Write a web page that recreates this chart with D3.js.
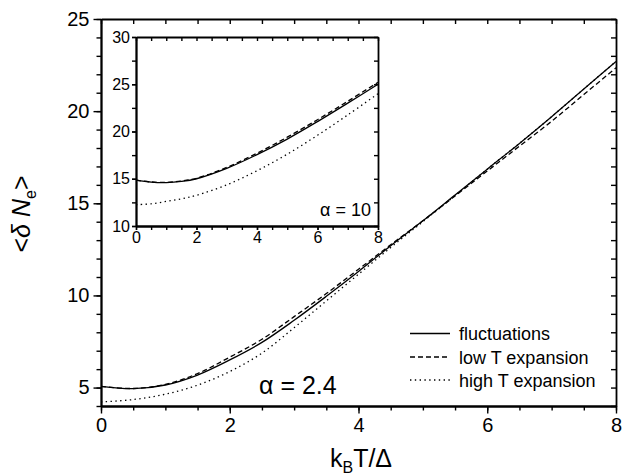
<!DOCTYPE html>
<html lang="en">
<head>
  <meta charset="UTF-8" />
  <title>delta N_e vs kBT/Delta</title>
  <script src="https://d3js.org/d3.v7.min.js"></script>
  <style>
    body { margin: 0; background: white; }
    svg { display: block; font-family: "Liberation Sans", Arial, sans-serif; }
    .axis path, .axis line { stroke: black; }
    .axis path { stroke-width: 1.8px; }
    .axis line { stroke-width: 1.4px; }
    .axis text { fill: black; }
    .curve { fill: none; stroke: black; stroke-width: 1.3px; }
  </style>
</head>
<body>
<svg width="631" height="476"></svg>
<script>
  // main panel (alpha = 2.4)
  const mainX = [0, 0.5, 1, 1.5, 2, 2.5, 3, 3.5, 4, 4.5, 5, 5.5, 6, 6.5, 7, 7.5, 8];
  const mainFluct = [5.07, 4.94, 5.14, 5.68, 6.5, 7.45, 8.65, 9.95, 11.3, 12.7, 14.05, 15.45, 16.85, 18.25, 19.7, 21.2, 22.7];
  const mainLowT = [5.07, 4.95, 5.17, 5.76, 6.65, 7.62, 8.85, 10.1, 11.42, 12.75, 14.05, 15.4, 16.75, 18.1, 19.45, 20.9, 22.35];
  const mainHighT = [4.22, 4.35, 4.64, 5.13, 5.87, 6.87, 8.25, 9.7, 11.15, 12.6, 14.0, 15.42, 16.85, 18.25, 19.7, 21.2, 22.7];

  // inset (alpha = 10)
  const insetX = [0, 0.5, 1, 1.5, 2, 3, 4, 5, 6, 7, 8];
  const insetFluct = [14.85, 14.65, 14.6, 14.72, 15.0, 16.1, 17.55, 19.2, 21.05, 23.0, 25.0];
  const insetLowT = [14.85, 14.66, 14.62, 14.76, 15.05, 16.2, 17.7, 19.4, 21.25, 23.2, 25.2];
  const insetHighT = [12.25, 12.35, 12.6, 12.88, 13.25, 14.35, 15.85, 17.6, 19.6, 21.75, 24.0];

  const mainXTicks = [0, 2, 4, 6, 8];
  const mainYTicks = [5, 10, 15, 20, 25];
  const insetXTicks = [0, 2, 4, 6, 8];
  const insetYTicks = [10, 15, 20, 25, 30];

  const legendLabels = ["fluctuations", "low T expansion", "high T expansion"];
  const dashes = [null, "5,3", "1.4,3.4"];

  const svg = d3.select("svg");

  function drawPanel(g, o) {
    const x = d3.scaleLinear().domain(o.xDomain).range([o.left, o.right]);
    const y = d3.scaleLinear().domain(o.yDomain).range([o.bottom, o.top]);

    if (o.background) {
      g.append("rect")
        .attr("x", o.left).attr("y", o.top)
        .attr("width", o.right - o.left).attr("height", o.bottom - o.top)
        .attr("fill", "white");
    }

    const xMinor = d3.range(o.xDomain[0], o.xDomain[1] + 1e-9, o.xMinorStep);
    const yMinor = d3.range(Math.ceil(o.yDomain[0] / o.yMinorStep) * o.yMinorStep, o.yDomain[1] + 1e-9, o.yMinorStep);

    // bottom: outward
    g.append("g").attr("class", "axis").attr("transform", `translate(0,${o.bottom})`)
      .call(d3.axisBottom(x).tickValues(xMinor).tickSize(o.minorLen).tickSizeOuter(0).tickFormat(""));
    g.append("g").attr("class", "axis").attr("transform", `translate(0,${o.bottom})`)
      .call(d3.axisBottom(x).tickValues(o.xTicks).tickSize(o.majorLen).tickSizeOuter(0).tickPadding(o.pad))
      .call(a => a.selectAll("text").attr("font-size", o.font));
    // left: outward
    g.append("g").attr("class", "axis").attr("transform", `translate(${o.left},0)`)
      .call(d3.axisLeft(y).tickValues(yMinor).tickSize(o.minorLen).tickSizeOuter(0).tickFormat(""));
    g.append("g").attr("class", "axis").attr("transform", `translate(${o.left},0)`)
      .call(d3.axisLeft(y).tickValues(o.yTicks).tickSize(o.majorLen).tickSizeOuter(0).tickPadding(o.ypad))
      .call(a => a.selectAll("text").attr("font-size", o.font));
    // top: inward
    g.append("g").attr("class", "axis").attr("transform", `translate(0,${o.top})`)
      .call(d3.axisTop(x).tickValues(xMinor).tickSize(-o.innerLen).tickSizeOuter(0).tickFormat(""));
    // right: inward
    g.append("g").attr("class", "axis").attr("transform", `translate(${o.right},0)`)
      .call(d3.axisRight(y).tickValues(yMinor).tickSize(-o.innerLen).tickSizeOuter(0).tickFormat(""));

    const line = d3.line().x(d => x(d[0])).y(d => y(d[1])).curve(d3.curveCatmullRom);
    o.series.forEach((s, i) => {
      g.append("path")
        .attr("class", "curve")
        .attr("d", line(o.xs.map((v, k) => [v, s[k]])))
        .attr("stroke-dasharray", dashes[i]);
    });
    return { x, y };
  }

  const main = drawPanel(svg.append("g"), {
    left: 101, right: 616, top: 19, bottom: 406,
    xDomain: [0, 8], yDomain: [4, 25],
    xTicks: mainXTicks, yTicks: mainYTicks,
    xMinorStep: 0.5, yMinorStep: 1,
    majorLen: 7.5, minorLen: 4.5, innerLen: 5,
    font: "20px", pad: 4, ypad: 4,
    xs: mainX, series: [mainFluct, mainLowT, mainHighT]
  });

  const inset = drawPanel(svg.append("g"), {
    left: 136, right: 378, top: 37, bottom: 226,
    xDomain: [0, 8], yDomain: [10, 30],
    xTicks: insetXTicks, yTicks: insetYTicks,
    xMinorStep: 0.5, yMinorStep: 2.5,
    majorLen: 4, minorLen: 4, innerLen: 4,
    font: "16px", pad: 2, ypad: 2,
    background: true,
    xs: insetX, series: [insetFluct, insetLowT, insetHighT]
  });

  // annotations
  svg.append("text").attr("x", 371).attr("y", 216).attr("text-anchor", "end")
    .attr("font-size", 18).text("\u03b1 = 10");
  svg.append("text").attr("x", 259).attr("y", 394)
    .attr("font-size", 25).text("\u03b1 = 2.4");

  // legend
  const legend = svg.append("g");
  const rowY = [333.5, 357, 380];
  legendLabels.forEach((label, i) => {
    legend.append("line")
      .attr("class", "curve")
      .attr("x1", 410).attr("x2", 450)
      .attr("y1", rowY[i]).attr("y2", rowY[i])
      .attr("stroke-dasharray", dashes[i]);
    legend.append("text")
      .attr("x", 459).attr("y", rowY[i] + 6.5)
      .attr("font-size", 18).text(label);
  });

  // axis titles
  const xt = svg.append("text").attr("x", 361).attr("y", 467)
    .attr("text-anchor", "middle").attr("font-size", 25);
  xt.append("tspan").text("k");
  xt.append("tspan").attr("font-size", 16).attr("dy", 6).text("B");
  xt.append("tspan").attr("dy", -6).text("T/\u0394");

  const yt = svg.append("text")
    .attr("transform", "translate(30,214) rotate(-90)")
    .attr("text-anchor", "middle").attr("font-size", 25);
  yt.append("tspan").text("<");
  yt.append("tspan").attr("font-style", "italic").text("\u03b4 N");
  yt.append("tspan").attr("font-size", 16).attr("dy", 6).text("e");
  yt.append("tspan").attr("dy", -6).text(">");
</script>
</body>
</html>
